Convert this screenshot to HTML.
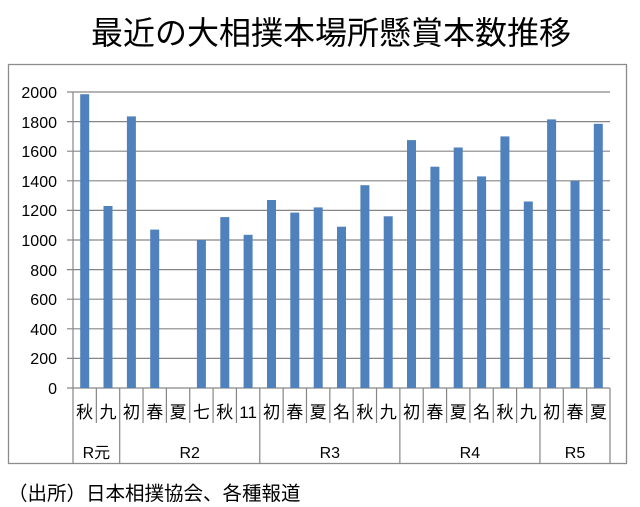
<!DOCTYPE html>
<html><head><meta charset="utf-8"><style>html,body{margin:0;padding:0;background:#fff}svg{display:block}</style></head><body>
<svg width="640" height="507" xmlns="http://www.w3.org/2000/svg" font-family="'Liberation Sans','Noto Sans CJK JP',sans-serif">
<rect x="0" y="0" width="640" height="507" fill="#fff"/>
<text x="331" y="44" font-size="32" text-anchor="middle" fill="#000">最近の大相撲本場所懸賞本数推移</text>
<rect x="8.5" y="64.5" width="618" height="399" fill="none" stroke="#8c8c8c" stroke-width="1.3"/>
<g stroke="#868686" stroke-width="1.2">
<line x1="67" y1="92" x2="610" y2="92"/><line x1="67" y1="121.6" x2="610" y2="121.6"/><line x1="67" y1="151.2" x2="610" y2="151.2"/><line x1="67" y1="180.8" x2="610" y2="180.8"/><line x1="67" y1="210.4" x2="610" y2="210.4"/><line x1="67" y1="240" x2="610" y2="240"/><line x1="67" y1="269.6" x2="610" y2="269.6"/><line x1="67" y1="299.2" x2="610" y2="299.2"/><line x1="67" y1="328.8" x2="610" y2="328.8"/><line x1="67" y1="358.4" x2="610" y2="358.4"/><line x1="67" y1="388" x2="610" y2="388"/>
<line x1="73" y1="92" x2="73" y2="464"/>
</g>
<g font-size="16" fill="#000" text-anchor="end">
<text x="57" y="98">2000</text><text x="57" y="128">1800</text><text x="57" y="157">1600</text><text x="57" y="187">1400</text><text x="57" y="216">1200</text><text x="57" y="246">1000</text><text x="57" y="276">800</text><text x="57" y="305">600</text><text x="57" y="335">400</text><text x="57" y="364">200</text><text x="57" y="394">0</text>
</g>
<g fill="#4f81bd">
<rect x="80.2" y="94.2" width="9" height="293.8"/>
<rect x="103.5" y="206.0" width="9" height="182.0"/>
<rect x="126.9" y="116.4" width="9" height="271.6"/>
<rect x="150.2" y="229.6" width="9" height="158.4"/>
<rect x="196.9" y="240.0" width="9" height="148.0"/>
<rect x="220.3" y="217.1" width="9" height="170.9"/>
<rect x="243.6" y="234.8" width="9" height="153.2"/>
<rect x="267.0" y="200.0" width="9" height="188.0"/>
<rect x="290.3" y="212.6" width="9" height="175.4"/>
<rect x="313.7" y="207.4" width="9" height="180.6"/>
<rect x="337.0" y="226.7" width="9" height="161.3"/>
<rect x="360.4" y="185.2" width="9" height="202.8"/>
<rect x="383.7" y="216.3" width="9" height="171.7"/>
<rect x="407.0" y="140.1" width="9" height="247.9"/>
<rect x="430.4" y="166.7" width="9" height="221.3"/>
<rect x="453.7" y="147.5" width="9" height="240.5"/>
<rect x="477.1" y="176.4" width="9" height="211.6"/>
<rect x="500.4" y="136.4" width="9" height="251.6"/>
<rect x="523.8" y="201.5" width="9" height="186.5"/>
<rect x="547.1" y="119.4" width="9" height="268.6"/>
<rect x="570.5" y="180.8" width="9" height="207.2"/>
<rect x="593.8" y="123.8" width="9" height="264.2"/>
</g>
<g stroke="#868686" stroke-width="1.2">
<line x1="96.35" y1="388" x2="96.35" y2="423"/>
<line x1="119.7" y1="388" x2="119.7" y2="464"/>
<line x1="143.04" y1="388" x2="143.04" y2="423"/>
<line x1="166.39" y1="388" x2="166.39" y2="423"/>
<line x1="189.74" y1="388" x2="189.74" y2="423"/>
<line x1="213.09" y1="388" x2="213.09" y2="423"/>
<line x1="236.43" y1="388" x2="236.43" y2="423"/>
<line x1="259.78" y1="388" x2="259.78" y2="464"/>
<line x1="283.13" y1="388" x2="283.13" y2="423"/>
<line x1="306.48" y1="388" x2="306.48" y2="423"/>
<line x1="329.83" y1="388" x2="329.83" y2="423"/>
<line x1="353.17" y1="388" x2="353.17" y2="423"/>
<line x1="376.52" y1="388" x2="376.52" y2="423"/>
<line x1="399.87" y1="388" x2="399.87" y2="464"/>
<line x1="423.22" y1="388" x2="423.22" y2="423"/>
<line x1="446.57" y1="388" x2="446.57" y2="423"/>
<line x1="469.91" y1="388" x2="469.91" y2="423"/>
<line x1="493.26" y1="388" x2="493.26" y2="423"/>
<line x1="516.61" y1="388" x2="516.61" y2="423"/>
<line x1="539.96" y1="388" x2="539.96" y2="464"/>
<line x1="563.3" y1="388" x2="563.3" y2="423"/>
<line x1="586.65" y1="388" x2="586.65" y2="423"/>
<line x1="610" y1="388" x2="610" y2="464"/>
</g>
<g font-size="17" fill="#000" text-anchor="middle">
<text x="84.67" y="418">秋</text><text x="108.02" y="418">九</text><text x="131.37" y="418">初</text><text x="154.72" y="418">春</text><text x="178.07" y="418">夏</text><text x="201.41" y="418">七</text><text x="224.76" y="418">秋</text><text x="248.11" y="418">11</text><text x="271.46" y="418">初</text><text x="294.81" y="418">春</text><text x="318.15" y="418">夏</text><text x="341.5" y="418">名</text><text x="364.85" y="418">秋</text><text x="388.2" y="418">九</text><text x="411.54" y="418">初</text><text x="434.89" y="418">春</text><text x="458.24" y="418">夏</text><text x="481.59" y="418">名</text><text x="504.94" y="418">秋</text><text x="528.28" y="418">九</text><text x="551.63" y="418">初</text><text x="574.98" y="418">春</text><text x="598.33" y="418">夏</text>
</g>
<g font-size="16" fill="#000" text-anchor="middle">
<text x="96.35" y="458">R元</text><text x="189.74" y="458">R2</text><text x="329.83" y="458">R3</text><text x="469.91" y="458">R4</text><text x="575" y="458">R5</text>
</g>
<text x="8" y="500" font-size="19.5" fill="#000">（出所）日本相撲協会、各種報道</text>
</svg>
</body></html>
